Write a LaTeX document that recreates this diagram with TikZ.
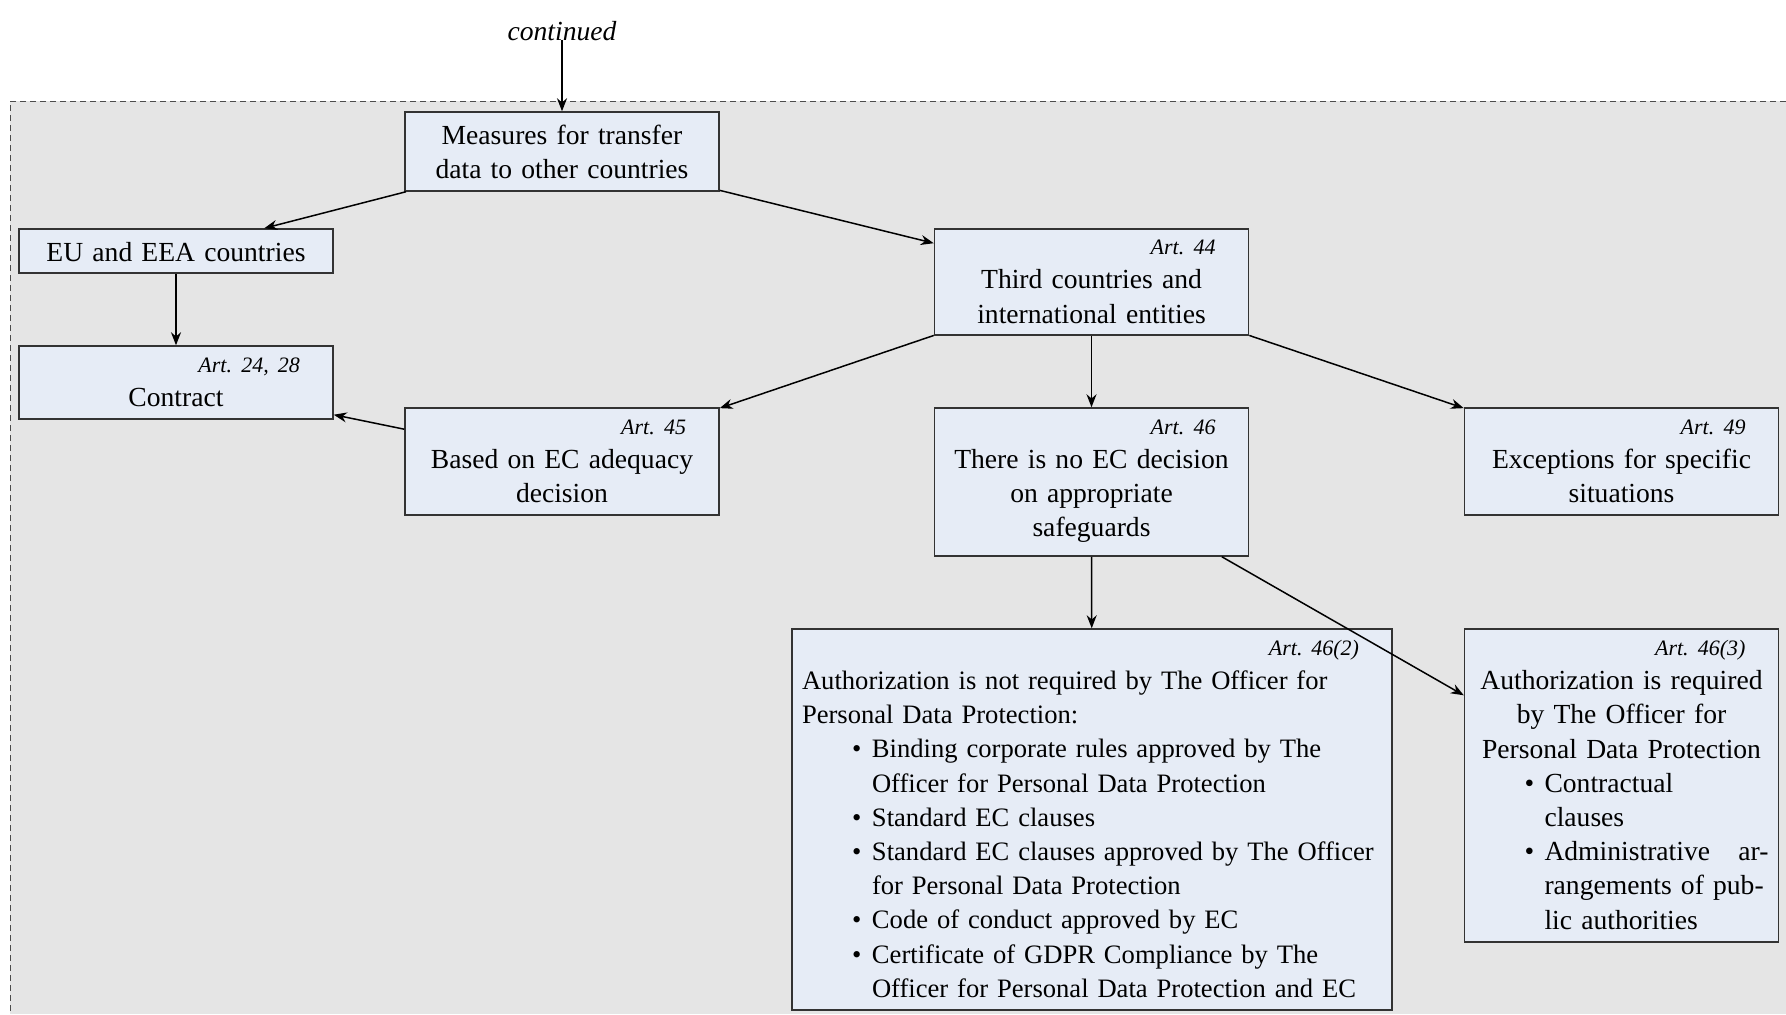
\documentclass[tikz,border=0pt]{standalone}
\usepackage{fontspec}
\setmainfont{Liberation Serif}
\usetikzlibrary{arrows.meta}
\definecolor{boxfill}{RGB}{230,236,246}
\definecolor{bggray}{RGB}{229,229,229}
\newcommand\artlbl[2]{\makebox[#1][r]{\fontsize{11}{17.1}\selectfont\itshape #2\hspace{11.5pt}}}
\newcommand\bul{\makebox[35pt][l]{\hspace{25pt}\textbullet}}
\newcommand\ind{\hspace*{35pt}}
\newcommand\topS{\rule{0pt}{15.4pt}}
\newcommand\botL{\rule[-8.5pt]{0pt}{8.5pt}}
\begin{document}
\begin{tikzpicture}[x=0.5pt,y=-0.5pt,
  box/.style={draw=black!80, line width=0.75pt, fill=boxfill, inner xsep=5pt, inner ysep=0pt,
    align=center, font=\fontsize{13.8}{17.1}\selectfont, text width=147pt, minimum width=157pt},
  arr/.style={-{Stealth[length=6.5pt,width=5pt]}, line width=0.75pt},
  region/.style={fill=bggray},
  regionedge/.style={draw=black!70, line width=0.5pt, dash pattern=on 3pt off 2pt},
]
\useasboundingbox (0,0) rectangle (1786,1014);
\fill[white] (0,0) rectangle (1786,1014);
\fill[region] (10,101) rectangle (1786,1014);
\draw[regionedge] (1786,101) -- (10,101) -- (10,1014);

\node[font=\fontsize{13.8}{17.1}\selectfont\itshape, inner sep=0pt] (cont) at (562,31) {continued};

\node[box, minimum height=39.5pt] (measures) at (562,151.5) {\topS Measures for transfer\\data to other countries\strut};
\node[box, minimum height=22pt] (eu) at (176,251) {\topS EU and EEA countries\strut};
\node[box, minimum height=36.5pt] (contract) at (176,382.5) {\strut\artlbl{147pt}{Art.\ 24, 28}\\Contract\strut};
\node[box, minimum height=53pt] (third) at (1091.5,282) {\strut\artlbl{147pt}{Art.\ 44}\\Third countries and\\international entities\strut};
\node[box, minimum height=53.5pt] (art45) at (562,461.5) {\strut\artlbl{147pt}{Art.\ 45}\\Based on EC adequacy\\decision\strut};
\node[box, minimum height=74pt] (art46) at (1091.5,482) {\strut\artlbl{147pt}{Art.\ 46}\\There is no EC decision\\on appropriate\\safeguards\botL};
\node[box, minimum height=53.5pt] (art49) at (1621.5,461.5) {\strut\artlbl{147pt}{Art.\ 49}\\Exceptions for specific\\situations\strut};
\node[box, align=left, font=\fontsize{13.3}{17.1}\selectfont, text width=290pt, minimum width=300pt, minimum height=190.5pt] (a462) at (1092,819.5) {\strut\artlbl{290pt}{Art.\ 46(2)}\\
\mbox{Authorization is not required by The Officer for}\\
\mbox{Personal Data Protection:}\\
\mbox{\bul Binding corporate rules approved by The}\\
\mbox{\ind Officer for Personal Data Protection}\\
\mbox{\bul Standard EC clauses}\\
\mbox{\bul\makebox[253pt][s]{Standard EC clauses approved by The Officer}}\\
\mbox{\ind for Personal Data Protection}\\
\mbox{\bul Code of conduct approved by EC}\\
\mbox{\bul Certificate of GDPR Compliance by The}\\
\mbox{\ind Officer for Personal Data Protection and EC}\strut};
\node[box, minimum height=156.5pt] (a463) at (1621.5,785.5) {\strut\artlbl{147pt}{Art.\ 46(3)}\\
Authorization is required\\
by The Officer for\\
Personal Data Protection\\
\makebox[147pt][l]{\bul Contractual}\\
\makebox[147pt][l]{\ind clauses}\\
\makebox[147pt][s]{\bul Administrative\hfill ar-}\\
\makebox[147pt][s]{\ind rangements of pub-}\\
\makebox[147pt][l]{\ind lic authorities}\strut};

\draw[arr] (cont.base) -- (measures);
\draw[arr] (measures) -- (eu);
\draw[arr] (measures) -- (third);
\draw[arr] (eu) -- (contract);
\draw[arr] (art45) -- (contract);
\draw[arr] (third) -- (art45);
\draw[arr] (third) -- (art46);
\draw[arr] (third) -- (art49);
\draw[arr] (art46) -- (a462);
\draw[arr] (art46) -- (a463);
\end{tikzpicture}
\end{document}
